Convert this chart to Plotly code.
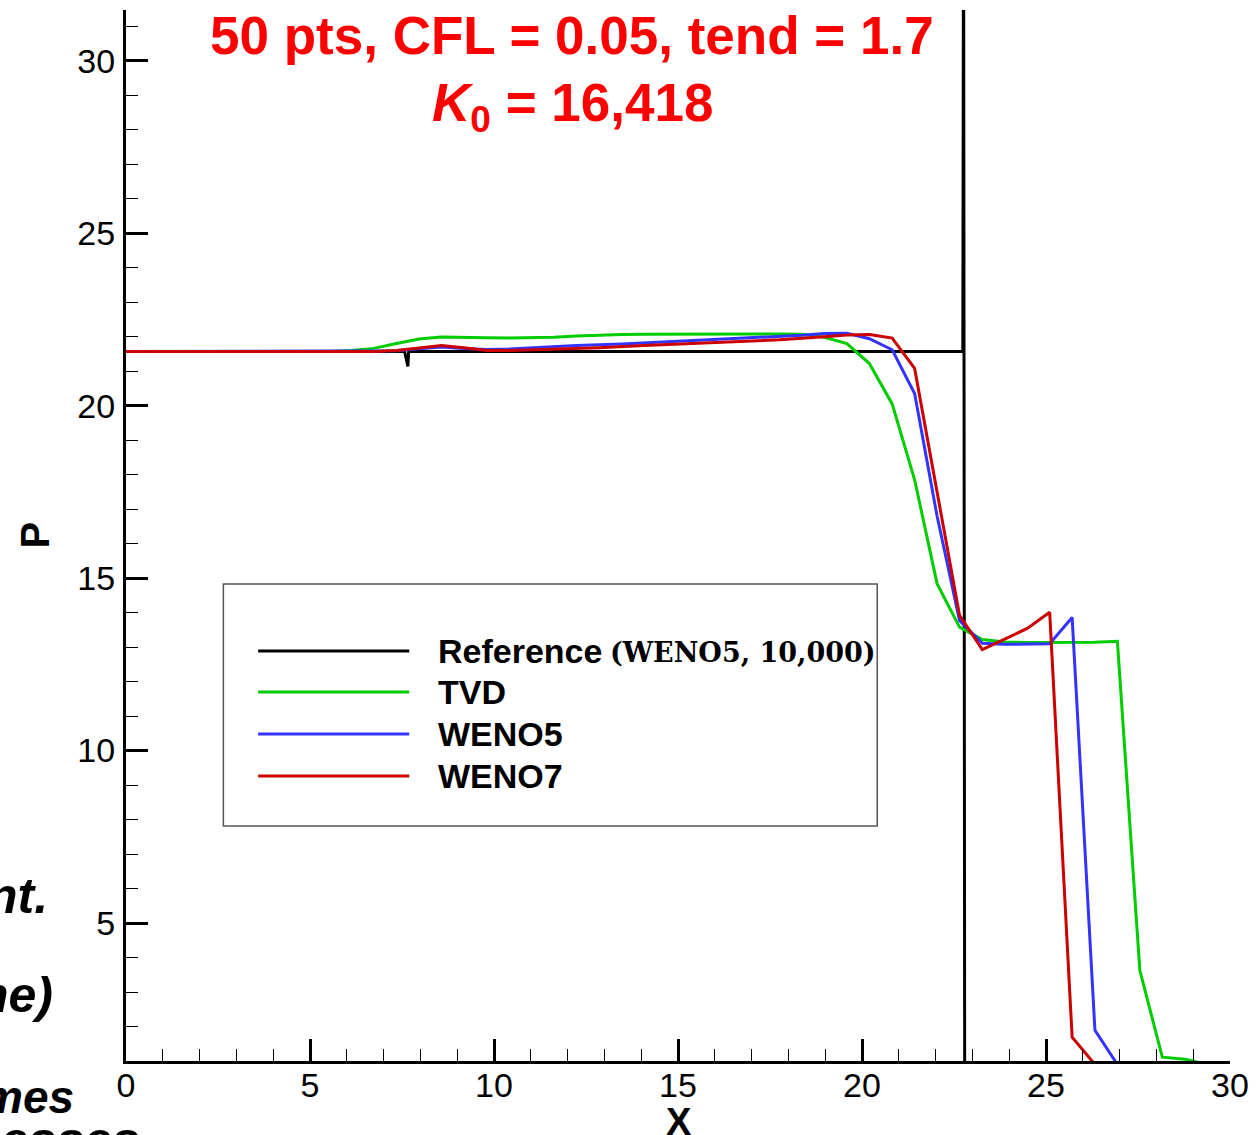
import plotly.graph_objects as go

# Pressure profiles at t = 1.7 (50-point grid) and the fine-grid reference
ref_x = [0.0, 7.57, 7.66, 7.68, 22.74, 22.76, 22.79, 30.0]
ref_p = [21.57, 21.57, 21.14, 21.57, 21.57, 36.0, 0.9, 0.9]

tvd_x = [0.0, 5.51, 6.12, 6.73, 7.35, 7.96, 8.57, 9.18, 9.80, 10.41, 11.02, 11.63,
         12.24, 12.86, 13.47, 14.08, 15.31, 16.53, 17.76, 18.37, 18.98, 19.59,
         20.20, 20.82, 21.43, 22.04, 22.65, 23.27, 23.88, 24.49, 25.10, 25.71,
         26.33, 26.94, 27.55, 28.16, 28.78, 29.39, 30.0]
tvd_p = [21.57, 21.57, 21.60, 21.66, 21.80, 21.93, 21.99, 21.99, 21.97, 21.96, 21.96, 21.98,
         22.02, 22.05, 22.06, 22.07, 22.08, 22.08, 22.08, 22.07, 21.98, 21.80,
         21.22, 20.05, 17.85, 14.84, 13.58, 13.22, 13.15, 13.13, 13.13, 13.13,
         13.14, 13.17, 3.63, 1.11, 1.05, 0.9, 0.9]

weno5_x = [0.0, 6.73, 7.35, 7.96, 8.57, 9.18, 9.80, 10.41, 11.02, 12.24, 13.47, 14.69,
           15.92, 17.14, 18.37, 18.98, 19.59, 20.20, 20.82, 21.43, 22.04, 22.65,
           23.27, 23.88, 24.49, 25.10, 25.71, 26.33, 26.94, 30.0]
weno5_p = [21.57, 21.57, 21.59, 21.65, 21.70, 21.66, 21.63, 21.64, 21.68, 21.74, 21.79, 21.85,
           21.90, 21.96, 22.04, 22.09, 22.10, 21.94, 21.62, 20.35, 16.80, 13.77,
           13.11, 13.08, 13.08, 13.10, 13.86, 1.89, 0.9, 0.9]

weno7_x = [0.0, 6.73, 7.35, 7.96, 8.57, 9.18, 9.80, 10.41, 11.63, 12.86, 14.08, 15.31,
           16.53, 17.76, 18.98, 19.59, 20.20, 20.82, 21.43, 22.04, 22.65, 23.27,
           23.88, 24.49, 25.10, 25.71, 26.33, 30.0]
weno7_p = [21.57, 21.57, 21.60, 21.68, 21.74, 21.68, 21.60, 21.60, 21.63, 21.68, 21.74, 21.79,
           21.85, 21.91, 22.00, 22.05, 22.06, 21.96, 21.08, 17.51, 13.92, 12.93,
           13.23, 13.54, 14.01, 1.69, 0.9, 0.9]

series_names = ["Reference", "TVD", "WENO5", "WENO7"]
series_colors = ["#000000", "#00CC00", "#3333FF", "#CC0000"]

x_ticks = [0, 5, 10, 15, 20, 25, 30]
y_ticks = [5, 10, 15, 20, 25, 30]

W, H = 1259, 1135
ML, MR, MT, MB = 126, 22, 10, 74
PW, PH = W - ML - MR, H - MT - MB


def px(xp):
    return (xp - ML) / PW


def py(yp):
    return (H - MB - yp) / PH


fig = go.Figure()
for xs, ps, name, col in zip([ref_x, tvd_x, weno5_x, weno7_x],
                             [ref_p, tvd_p, weno5_p, weno7_p],
                             series_names, series_colors):
    fig.add_trace(go.Scatter(x=xs, y=ps, mode="lines", name=name,
                             line=dict(color=col, width=3), showlegend=False))

tick_font = dict(family="Liberation Sans, Arial, sans-serif", size=34, color="black")
fig.update_xaxes(range=[0, 30], tickvals=x_ticks, ticks="inside", ticklen=22, tickwidth=3,
                 tickcolor="black", showline=True, linecolor="black", linewidth=3,
                 showgrid=False, zeroline=False, tickfont=tick_font, ticklabelstandoff=-8,
                 minor=dict(dtick=1, ticks="inside", ticklen=12, tickwidth=1, tickcolor="black"))
fig.update_yaxes(range=[1, 31.47], tickvals=y_ticks, ticks="inside", ticklen=22, tickwidth=3,
                 tickcolor="black", showline=True, linecolor="black", linewidth=3,
                 showgrid=False, zeroline=False, tickfont=tick_font, ticklabelstandoff=1,
                 minor=dict(dtick=1, ticks="inside", ticklen=12, tickwidth=1, tickcolor="black"))

annotations = []
title_font = dict(family="Liberation Sans, Arial, sans-serif", size=53, color="#FF0000")
annotations.append(dict(x=px(575), y=py(36), xref="paper", yref="paper", showarrow=False,
                        xanchor="center", yanchor="middle",
                        text="<b>50 pts, CFL = 0.05, tend = 1.7</b>", font=title_font))
annotations.append(dict(x=px(575), y=py(107), xref="paper", yref="paper", showarrow=False,
                        xanchor="center", yanchor="middle",
                        text="<b><i>K</i><sub>0</sub> = 16,418</b>", font=title_font))

# axis titles
annotations.append(dict(x=px(683), y=py(1122), xref="paper", yref="paper", showarrow=False,
                        xanchor="center", yanchor="middle", text="<b>X</b>",
                        font=dict(family="Liberation Sans, Arial", size=38, color="black")))
annotations.append(dict(x=px(34), y=py(535), xref="paper", yref="paper", showarrow=False,
                        xanchor="center", yanchor="middle", text="<b>P</b>", textangle=-90,
                        font=dict(family="Liberation Sans, Arial", size=40, color="black")))

# legend box
shapes = [dict(type="rect", xref="paper", yref="paper", x0=px(224), x1=px(882),
               y0=py(826), y1=py(584), line=dict(color="#555555", width=1.5),
               fillcolor="white", layer="below")]
leg_y = [651, 692, 734, 776]
leg_font = dict(family="Liberation Sans, Arial", size=34, color="black")
for yy, name, col in zip(leg_y, series_names, series_colors):
    shapes.append(dict(type="line", xref="paper", yref="paper", x0=px(259), x1=px(411),
                       y0=py(yy), y1=py(yy), line=dict(color=col, width=3)))
    annotations.append(dict(x=px(438), y=py(yy), xref="paper", yref="paper", showarrow=False,
                            xanchor="left", yanchor="middle", text="<b>" + name + "</b>",
                            font=leg_font))
annotations.append(dict(x=px(611), y=py(652), xref="paper", yref="paper", showarrow=False,
                        xanchor="left", yanchor="middle", text="<b>(WENO5, 10,000)</b>",
                        font=dict(family="DejaVu Serif, serif", size=27, color="black")))

# slide text running in from the left edge
for txt, xr, yc, fs in [("nt.", 50, 896, 50), ("ne)", 55, 995, 50),
                        ("mes", 76, 1097, 46), ("rocesses", 142, 1140, 50)]:
    annotations.append(dict(x=px(xr), y=py(yc), xref="paper", yref="paper", showarrow=False,
                            xanchor="right", yanchor="middle", text="<b><i>" + txt + "</i></b>",
                            font=dict(family="Liberation Sans, Arial, sans-serif", size=fs,
                                      color="black")))

fig.update_layout(width=W, height=H, margin=dict(l=ML, r=MR, t=MT, b=MB),
                  paper_bgcolor="white", plot_bgcolor="white",
                  annotations=annotations, shapes=shapes, showlegend=False)

fig.write_html("out.html")
